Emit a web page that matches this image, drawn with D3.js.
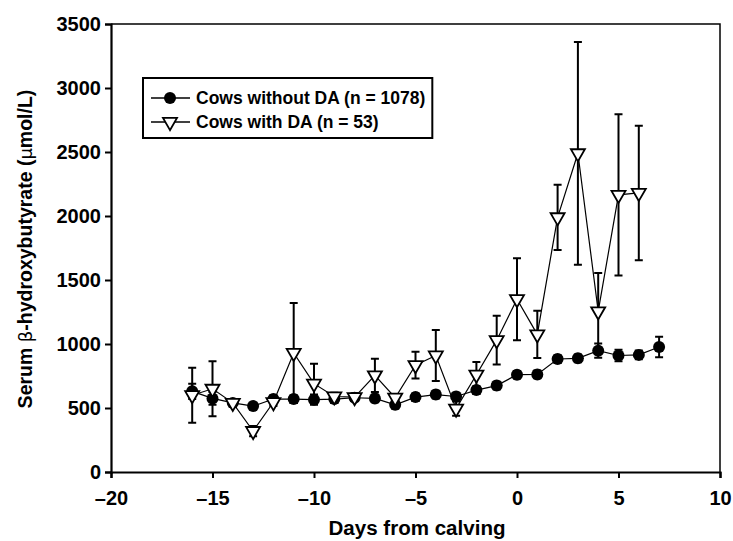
<!DOCTYPE html>
<html>
<head>
<meta charset="utf-8">
<script src="https://d3js.org/d3.v7.min.js"></script>
<style>
body {margin:0; background:#fff;}
text {font-family: "Liberation Sans", Arial, sans-serif; font-weight: bold; fill: #000;}
</style>
</head>
<body>
<svg id="chart" width="733" height="541"></svg>
<script>
// days from calving
var days = [-16,-15,-14,-13,-12,-11,-10,-9,-8,-7,-6,-5,-4,-3,-2,-1,0,1,2,3,4,5,6,7];
// cows without DA (mean, SE)
var noDA   = [630,575,540,515,570,570,565,570,580,575,525,585,605,590,640,675,760,762,883,888,948,910,915,977];
var noDAse = [60,50,30,25,30,30,40,30,25,30,30,30,30,30,30,30,30,30,30,30,55,45,35,80];
// cows with DA (no value on day 7)
var withDA   = [600,650,540,320,545,930,690,590,585,755,580,835,910,495,760,1030,1350,1075,1990,2490,1255,2165,2180];
var withDAse = [215,215,30,40,30,390,155,30,30,130,30,105,200,55,100,190,320,185,255,870,300,630,525];

var xTicks = [-20,-15,-10,-5,0,5,10];
var yTicks = [0,500,1000,1500,2000,2500,3000,3500];

var svg = d3.select("#chart");
var x = d3.scaleLinear([-20, 10], [111, 720]);
var y = d3.scaleLinear([0, 3500], [472, 24]);

// frame top / right
svg.append("path").attr("d", "M111,24H720V472")
   .attr("fill","none").attr("stroke","#000").attr("stroke-width",1.5);

var xAxis = svg.append("g").attr("transform","translate(0,472)")
   .call(d3.axisBottom(x).tickValues(xTicks).tickSize(6).tickFormat(d => d < 0 ? "\u2013" + (-d) : d));
var yAxis = svg.append("g").attr("transform","translate(111,0)")
   .call(d3.axisLeft(y).tickValues(yTicks).tickSize(6).tickPadding(4).tickFormat(d3.format("d")));
[xAxis, yAxis].forEach(g => {
  g.select(".domain").attr("stroke-width", 2.2).attr("stroke","#000");
  g.selectAll(".tick line").attr("stroke-width", 2).attr("stroke","#000");
  g.selectAll(".tick text").attr("font-size", 20).attr("font-family", "Liberation Sans, Arial, sans-serif").attr("font-weight","bold").attr("fill","#000");
});
xAxis.selectAll(".tick text").attr("dy", "1.2em");

// axis titles
svg.append("text").attr("x", 417).attr("y", 535).attr("text-anchor","middle")
   .attr("font-size", 20).attr("textLength", 177).attr("lengthAdjust","spacingAndGlyphs")
   .text("Days from calving");
var yt = svg.append("text").attr("transform","translate(32,249) rotate(-90)")
   .attr("text-anchor","middle").attr("font-size", 19.5);
yt.append("tspan").text("Serum ");
yt.append("tspan").attr("font-weight","normal").attr("font-family","DejaVu Sans").attr("font-size",18).text("\u03b2");
yt.append("tspan").text("-hydroxybutyrate (");
yt.append("tspan").attr("font-weight","normal").attr("font-family","DejaVu Sans").attr("font-size",18).text("\u03bc");
yt.append("tspan").text("mol/L)");

var d1 = days.map((d,i) => ({d:d, v:noDA[i], e:noDAse[i]}));
var d2 = withDA.map((v,i) => ({d:days[i], v:v, e:withDAse[i]}));

var line = d3.line().x(p => x(p.d)).y(p => y(p.v));
var tri = d3.symbol(d3.symbolTriangle, 85);

function errorBars(data) {
  var g = svg.append("g").attr("stroke","#000").attr("stroke-width",2);
  g.selectAll("path").data(data).join("path")
    .attr("d", p => "M" + x(p.d) + "," + y(p.v - p.e) + "V" + y(p.v + p.e)
       + "M" + (x(p.d) - 4) + "," + y(p.v + p.e) + "h8"
       + "M" + (x(p.d) - 4) + "," + y(p.v - p.e) + "h8");
}

errorBars(d1);
svg.append("path").datum(d1).attr("d", line).attr("fill","none").attr("stroke","#000").attr("stroke-width",1.2);
svg.append("g").selectAll("circle").data(d1).join("circle")
   .attr("cx", p => x(p.d)).attr("cy", p => y(p.v)).attr("r", 6).attr("fill","#000");

errorBars(d2);
svg.append("path").datum(d2).attr("d", line).attr("fill","none").attr("stroke","#000").attr("stroke-width",1.2);
svg.append("g").selectAll("path").data(d2).join("path")
   .attr("d", tri)
   .attr("transform", p => "translate(" + x(p.d) + "," + y(p.v) + ") rotate(180)")
   .attr("fill","#fff").attr("stroke","#000").attr("stroke-width",1.8);

// legend
var lg = svg.append("g");
var box = lg.append("rect").attr("x",143).attr("y",78).attr("height",60)
  .attr("fill","#fff").attr("stroke","#000").attr("stroke-width",2);
var items = [{label:"Cows without DA (n = 1078)", t:"c", yy:98}, {label:"Cows with DA (n = 53)", t:"t", yy:122}];
var maxW = 0;
items.forEach(it => {
  lg.append("line").attr("x1",151).attr("x2",190).attr("y1",it.yy).attr("y2",it.yy)
    .attr("stroke","#000").attr("stroke-width",1.5);
  if (it.t == "c") lg.append("circle").attr("cx",170).attr("cy",it.yy).attr("r",6).attr("fill","#000");
  else lg.append("path").attr("d", tri).attr("transform","translate(170," + it.yy + ") rotate(180)")
    .attr("fill","#fff").attr("stroke","#000").attr("stroke-width",1.8);
  var t = lg.append("text").attr("x",196).attr("y",it.yy + 6).attr("font-size",17.5).text(it.label);
  maxW = Math.max(maxW, t.node().getComputedTextLength());
});
box.attr("width", 196 + maxW + 7 - 143);
</script>
</body>
</html>
